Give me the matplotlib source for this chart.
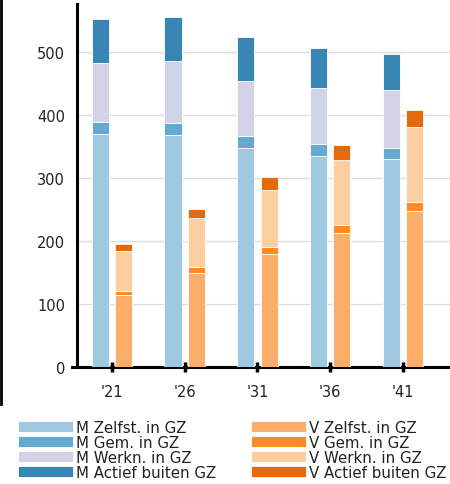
import matplotlib.pyplot as plt
import numpy as np
from matplotlib.lines import Line2D

# Datos
years = ["'21", "'26", "'31", "'36", "'41"]

m_zelfst = [370, 368, 347, 334, 330]
m_gem = [19, 19, 19, 19, 17]
m_werkn = [94, 98, 88, 89, 93]
m_actief = [69, 70, 69, 64, 57]

v_zelfst = [114, 149, 179, 212, 247]
v_gem = [7, 10, 12, 14, 15]
v_werkn = [63, 77, 90, 102, 119]
v_actief = [12, 14, 20, 24, 27]

m_labels = ["M Zelfst. in GZ", "M Gem. in GZ", "M Werkn. in GZ", "M Actief buiten GZ"]
v_labels = ["V Zelfst. in GZ", "V Gem. in GZ", "V Werkn. in GZ", "V Actief buiten GZ"]

m_colors = ["#9fc9e0", "#64a9d1", "#d3d3e7", "#3886b3"]
v_colors = ["#fdad6a", "#fd8b25", "#fdcfa0", "#e6690a"]

plt.rcParams["font.family"] = ["DejaVu Sans"]

fig = plt.figure(figsize=(4.5, 4.85), dpi=100)
ax = fig.add_axes([0.171, 0.241, 0.829, 0.749])

x = np.arange(len(years))
w = 0.235
off = 0.16

bottom = np.zeros(len(years))
handles = []
for vals, col, lab in zip([m_zelfst, m_gem, m_werkn, m_actief], m_colors, m_labels):
    b = ax.bar(x - off, vals, w, bottom=bottom, color=col, edgecolor="white",
               linewidth=0.6, label=lab, zorder=3)
    bottom += np.array(vals)
    handles.append(b)

bottom = np.zeros(len(years))
for vals, col, lab in zip([v_zelfst, v_gem, v_werkn, v_actief], v_colors, v_labels):
    b = ax.bar(x + off, vals, w, bottom=bottom, color=col, edgecolor="white",
               linewidth=0.6, label=lab, zorder=3)
    bottom += np.array(vals)
    handles.append(b)

ax.set_xlim(-0.48, 4.646)
ax.set_ylim(0, 576)
ax.set_yticks([0, 100, 200, 300, 400, 500])
ax.set_xticks(x)
ax.set_xticklabels(years)
ax.yaxis.grid(True, color="#dddddd", linewidth=1, zorder=0)
ax.set_axisbelow(True)

for s in ["top", "right"]:
    ax.spines[s].set_visible(False)
ax.spines["left"].set_linewidth(2.2)
ax.spines["bottom"].set_linewidth(2.2)
ax.spines["bottom"].set_bounds(-0.55, 4.646)
ax.tick_params(axis="y", length=0, pad=8.5, labelsize=10.5, labelcolor="#222222")
ax.tick_params(axis="x", direction="inout", length=7, width=2.5, pad=9,
               labelsize=10.5, labelcolor="#222222")

fig.legend(handles=handles, loc="upper left", bbox_to_anchor=(0.04, 0.132),
           ncol=2, frameon=False, fontsize=10.8, handlelength=3.67, handleheight=0.73,
           handletextpad=0.2, labelspacing=0.0, columnspacing=2.3,
           borderpad=0, borderaxespad=0, labelcolor="#222222")

# borde izquierdo del recorte
fig.add_artist(Line2D([0.002, 0.002], [0.165, 1.0], color="black", linewidth=2,
                      transform=fig.transFigure))

fig.savefig("out.png", dpi=100)
